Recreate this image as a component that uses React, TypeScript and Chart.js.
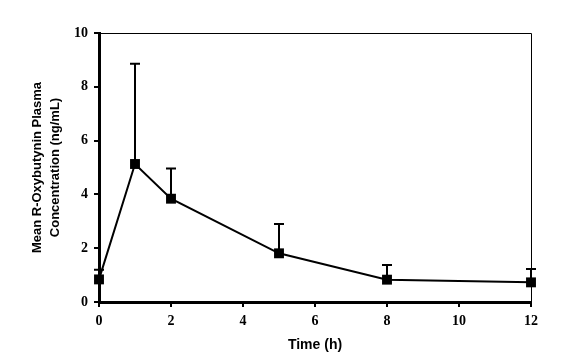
import React, { useEffect, useRef } from "react";
import { Chart, registerables } from "chart.js";

Chart.register(...registerables);

const times = [0, 1, 2, 5, 8, 12];
const meanConc = [0.84, 5.13, 3.84, 1.81, 0.83, 0.73];
const sdConc = [0.36, 3.73, 1.12, 1.09, 0.55, 0.5];
const xTicks = [0, 2, 4, 6, 8, 10, 12];
const yTicks = [0, 2, 4, 6, 8, 10];
const yTitle = ["Mean R-Oxybutynin Plasma", "Concentration (ng/mL)"];
const xTitle = "Time (h)";

const errorBars = {
  id: "errorBars",
  beforeDatasetsDraw(chart: any) {
    const { ctx, scales } = chart;
    const xs = scales.x;
    const ys = scales.y;
    ctx.save();
    ctx.strokeStyle = "#000";
    ctx.lineWidth = 2;
    times.forEach((t, i) => {
      const px = xs.getPixelForValue(t);
      const py = ys.getPixelForValue(meanConc[i]);
      const pTop = ys.getPixelForValue(meanConc[i] + sdConc[i]);
      ctx.beginPath();
      ctx.moveTo(px, py);
      ctx.lineTo(px, pTop);
      ctx.moveTo(px - 5, pTop);
      ctx.lineTo(px + 5, pTop);
      ctx.stroke();
    });
    ctx.restore();
  },
};

const frame = {
  id: "frame",
  afterDraw(chart: any) {
    const { ctx, scales } = chart;
    const l = scales.x.getPixelForValue(0);
    const r = scales.x.getPixelForValue(12);
    const t = scales.y.getPixelForValue(10);
    const b = scales.y.getPixelForValue(0);
    ctx.save();
    ctx.strokeStyle = "#000";
    ctx.lineWidth = 1;
    ctx.beginPath();
    ctx.moveTo(l, t + 0.5);
    ctx.lineTo(r + 0.5, t + 0.5);
    ctx.lineTo(r + 0.5, b);
    ctx.stroke();
    ctx.restore();
  },
};

export default function App() {
  const ref = useRef<HTMLCanvasElement>(null);
  useEffect(() => {
    document.body.style.margin = "0";
    const chart = new Chart(ref.current as HTMLCanvasElement, {
      type: "line",
      data: {
        datasets: [
          {
            data: times.map((t, i) => ({ x: t, y: meanConc[i] })),
            borderColor: "#000",
            backgroundColor: "#000",
            borderWidth: 2,
            pointStyle: "rect",
            pointRadius: 7,
            pointBorderWidth: 0,
            pointBackgroundColor: "#000",
            clip: false as any,
          },
        ],
      },
      options: {
        animation: false,
        responsive: false,
        layout: { padding: { top: 33, right: 38, left: 0, bottom: 0 } },
        plugins: { legend: { display: false }, tooltip: { enabled: false } },
        scales: {
          x: {
            type: "linear",
            min: 0,
            max: 12,
            afterBuildTicks: (s: any) => {
              s.ticks = xTicks.map((v) => ({ value: v }));
            },
            afterFit: (s: any) => {
              s.height = 60;
            },
            ticks: {
              color: "#000",
              padding: 6,
              font: { family: "Liberation Serif", weight: "bold", size: 14 },
            },
            grid: {
              drawOnChartArea: false,
              drawTicks: true,
              tickLength: 5,
              color: "#000",
              lineWidth: 2,
            },
            border: { color: "#000", width: 3 },
            title: {
              display: true,
              text: xTitle,
              color: "#000",
              font: { family: "Liberation Sans", weight: "bold", size: 14, lineHeight: 1.2 },
              padding: { top: 0, bottom: 8 },
            },
          },
          y: {
            min: 0,
            max: 10,
            afterBuildTicks: (s: any) => {
              s.ticks = yTicks.map((v) => ({ value: v }));
            },
            afterFit: (s: any) => {
              s.width = 99;
            },
            ticks: {
              color: "#000",
              padding: 6,
              font: { family: "Liberation Serif", weight: "bold", size: 14 },
            },
            grid: {
              drawOnChartArea: false,
              drawTicks: true,
              tickLength: 5,
              color: "#000",
              lineWidth: 2,
            },
            border: { color: "#000", width: 3 },
            title: {
              display: true,
              text: yTitle,
              color: "#000",
              font: { family: "Liberation Sans", weight: "bold", size: 13, lineHeight: 1.4 },
              padding: { top: 28, bottom: 0 },
            },
          },
        },
      },
      plugins: [errorBars, frame],
    });
    return () => chart.destroy();
  }, []);
  return (
    <div style={{ width: 569, height: 362, background: "#fff" }}>
      <canvas ref={ref} width={569} height={362} />
    </div>
  );
}
